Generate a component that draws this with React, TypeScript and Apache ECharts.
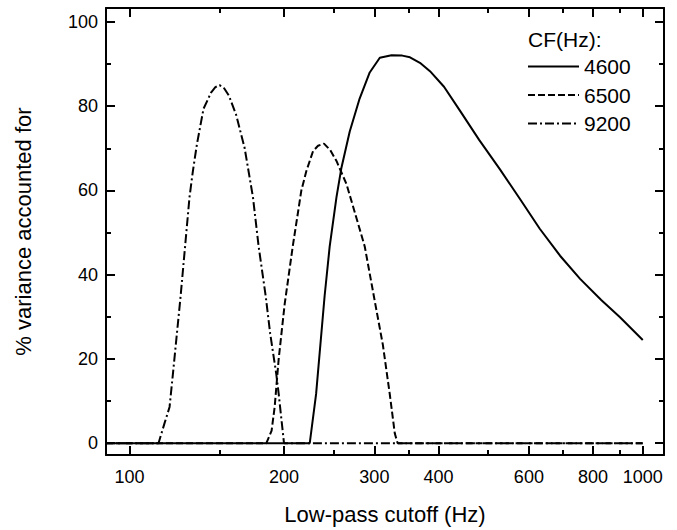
import React, { useEffect, useRef } from "react";
import * as echarts from "echarts";

// ---- data ----
const freq4600 = [90, 224.5, 231, 240, 245.5, 253.1, 258.8, 268.6, 280.8, 293.8, 307.4, 324, 340, 352, 368, 385, 410, 440, 480, 527, 580, 630, 690, 755, 830, 903, 1000];
const var4600 = [0, 0, 11.7, 35, 46.7, 58.4, 65.4, 74, 81.8, 88, 91.5, 92.1, 92.0, 91.6, 90.3, 88.3, 84.6, 79, 72, 65, 57.5, 50.9, 44.5, 39, 34, 29.9, 24.5];

const freq6500 = [90, 184.8, 189.2, 191.8, 195.3, 200.6, 208, 216.2, 221.1, 227.8, 233, 239.3, 246, 253.1, 264.7, 276, 287.3, 299.2, 311.6, 321.4, 328.8, 333, 1000];
const var6500 = [0, 0, 3, 8.6, 20, 33, 46.7, 60, 64.6, 69.3, 70.6, 71.1, 69.6, 67, 61.5, 54, 46.7, 35, 23.4, 11.7, 2.3, 0, 0];

const freq9200 = [90, 113.9, 117, 119.7, 121.5, 125.8, 130.9, 132.9, 135.3, 139.4, 144.3, 147, 149.8, 153, 156.2, 161.4, 167.6, 174, 178.5, 184.2, 188, 193.2, 195.3, 200, 1000];
const var9200 = [0, 0, 4.7, 8.6, 16.4, 35, 58.4, 64.6, 70.9, 79.4, 83.3, 84.5, 85, 84.2, 82.5, 77.9, 70.1, 58.4, 46.7, 35, 26, 16.4, 11.7, 0, 0];

const seriesNames = ["4600", "6500", "9200"];
const xMajorTicks = [100, 200, 300, 400, 600, 800, 1000];
const xMinorTicks = [150, 250, 350, 500, 700, 900];
const yMajorTicks = [0, 20, 40, 60, 80, 100];
const yMinorTicks = [10, 30, 50, 70, 90];

const FONT = "'Liberation Sans', Arial, Helvetica, sans-serif";
const lg = (v: number) => Math.log10(v);

export default function App() {
  const ref = useRef<HTMLDivElement>(null);
  useEffect(() => {
    document.body.style.margin = "0";
    if (!ref.current) return;
    const chart = echarts.init(ref.current, undefined, { renderer: "svg" });
    const black = "#000";
    const tickStyle = { color: black, width: 2 };
    const xBase = { type: "value", min: lg(90), max: lg(1100), splitLine: { show: false }, gridIndex: 0 };
    const yBase = { type: "value", min: -2.8, max: 103.3, splitLine: { show: false }, gridIndex: 0 };
    const mkX = (pos: string, ticks: number[], len: number, main: boolean, showLine: boolean) => ({
      ...xBase,
      position: pos,
      axisLine: { show: showLine, onZero: false, lineStyle: { color: black, width: 2 } },
      axisTick: { show: true, inside: true, length: len, lineStyle: tickStyle, customValues: ticks.map(lg) },
      axisLabel: main
        ? {
            show: true,
            customValues: ticks.map(lg),
            formatter: (v: number) => String(Math.round(Math.pow(10, v))),
            fontSize: 18,
            color: black,
            fontFamily: FONT,
            margin: 13,
          }
        : { show: false, customValues: ticks.map(lg) },
      ...(main
        ? {
            name: "Low-pass cutoff (Hz)",
            nameLocation: "middle",
            nameGap: 48,
            nameTextStyle: { fontSize: 22, color: black, fontFamily: FONT },
          }
        : {}),
    });
    const mkY = (pos: string, ticks: number[], len: number, main: boolean, showLine: boolean) => ({
      ...yBase,
      position: pos,
      axisLine: { show: showLine, onZero: false, lineStyle: { color: black, width: 2 } },
      axisTick: { show: true, inside: true, length: len, lineStyle: tickStyle, customValues: ticks },
      axisLabel: main
        ? { show: true, customValues: ticks, fontSize: 18, color: black, fontFamily: FONT, margin: 8 }
        : { show: false, customValues: ticks },
      ...(main
        ? {
            name: "% variance accounted for",
            nameLocation: "middle",
            nameGap: 72,
            nameTextStyle: { fontSize: 22, color: black, fontFamily: FONT },
          }
        : {}),
    });

    const mkData = (fs: number[], vs: number[]) => fs.map((f, i) => [lg(f), vs[i]]);
    const lineBase = {
      type: "line",
      xAxisIndex: 0,
      yAxisIndex: 0,
      symbol: "none",
      showSymbol: false,
      smooth: false,
      itemStyle: { color: black },
    };

    chart.setOption({
      animation: false,
      backgroundColor: "#fff",
      grid: { left: 106, right: 13, top: 8, bottom: 68, containLabel: false },
      xAxis: [
        mkX("bottom", xMajorTicks, 9, true, true),
        mkX("bottom", xMinorTicks, 5, false, false),
        mkX("top", xMajorTicks, 9, false, true),
        mkX("top", xMinorTicks, 5, false, false),
      ],
      yAxis: [
        mkY("left", yMajorTicks, 9, true, true),
        mkY("left", yMinorTicks, 5, false, false),
        mkY("right", yMajorTicks, 9, false, true),
        mkY("right", yMinorTicks, 5, false, false),
      ],
      legend: {
        orient: "vertical",
        left: 527,
        top: 56,
        padding: 0,
        itemWidth: 51,
        itemHeight: 14,
        itemGap: 7.5,
        itemStyle: { opacity: 0 },
        textStyle: { fontSize: 21, color: black, fontFamily: FONT },
        data: seriesNames,
      },
      graphic: [
        {
          type: "text",
          left: 528,
          top: 29,
          style: { text: "CF(Hz):", fontSize: 21, fill: black, fontFamily: FONT },
        },
      ],
      series: [
        { ...lineBase, name: seriesNames[0], data: mkData(freq4600, var4600), lineStyle: { color: black, width: 2, type: "solid" } },
        { ...lineBase, name: seriesNames[1], data: mkData(freq6500, var6500), lineStyle: { color: black, width: 2, type: [7, 3] } },
        { ...lineBase, name: seriesNames[2], data: mkData(freq9200, var9200), lineStyle: { color: black, width: 2, type: [9, 3, 2, 3] } },
      ],
    });
    return () => chart.dispose();
  }, []);
  return <div ref={ref} style={{ width: 677, height: 530 }} />;
}
